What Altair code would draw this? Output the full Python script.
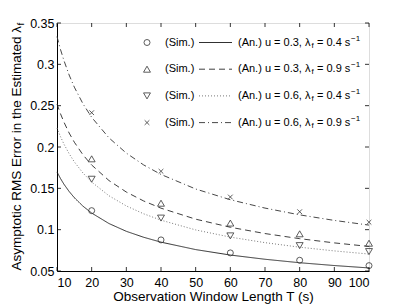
import altair as alt
import pandas as pd

# ---- data ----
T_curve = [10, 11, 12, 13.5, 15, 17.5, 20, 25, 30, 35, 40, 50, 60, 70, 80, 90, 100]
an_1 = [0.1698, 0.1619, 0.1550, 0.1462, 0.1387, 0.1284, 0.1201, 0.1074, 0.0980,
        0.0908, 0.0849, 0.0759, 0.0693, 0.0642, 0.0600, 0.0566, 0.0537]
an_2 = [0.2520, 0.2403, 0.2301, 0.2169, 0.2058, 0.1905, 0.1782, 0.1594, 0.1455,
        0.1347, 0.1260, 0.1127, 0.1029, 0.0953, 0.0891, 0.0840, 0.0797]
an_3 = [0.2229, 0.2126, 0.2035, 0.1919, 0.1820, 0.1685, 0.1576, 0.1410, 0.1287,
        0.1192, 0.1115, 0.0997, 0.0910, 0.0843, 0.0788, 0.0743, 0.0705]
an_4 = [0.3336, 0.3181, 0.3046, 0.2871, 0.2724, 0.2522, 0.2359, 0.2110, 0.1926,
        0.1783, 0.1668, 0.1492, 0.1362, 0.1261, 0.1179, 0.1112, 0.1055]

T_sim = [20, 40, 60, 80, 100]
sim_1 = [0.123, 0.0876, 0.0719, 0.063, 0.0565]
sim_2 = [0.1857, 0.132, 0.108, 0.095, 0.0836]
sim_3 = [0.161, 0.114, 0.0925, 0.0807, 0.0735]
sim_4 = [0.2415, 0.1706, 0.1395, 0.1217, 0.109]

series_u = ["0.3", "0.3", "0.6", "0.6"]
series_lam = ["0.4", "0.9", "0.4", "0.9"]

x_ticks = [10, 20, 30, 40, 50, 60, 70, 80, 90, 100]
y_ticks = [0.05, 0.1, 0.15, 0.2, 0.25, 0.3, 0.35]

# ---- styles ----
W, H = 312, 248
FONT = "Liberation Sans"
dashes = [[1, 0], [6, 4], [1, 2], [6, 3, 1, 3]]
line_colors = ["#1a1a1a", "#2a2a2a", "#6a6a6a", "#333333"]
mark_color = "#333333"
CROSS = "M-1,-1L1,1M-1,1L1,-1"
shapes = ["circle", "triangle-up", "triangle-down", CROSS]
sizes = [36, 48, 48, 22]

an_all = [an_1, an_2, an_3, an_4]
sim_all = [sim_1, sim_2, sim_3, sim_4]

x_enc = alt.X("T:Q",
              scale=alt.Scale(domain=[10, 100], nice=False, zero=False),
              axis=alt.Axis(values=x_ticks, title="Observation Window Length T (s)",
                            ticks=False, tickSize=0, labelPadding=5, titlePadding=1,
                            labelFontSize=12.5, titleFontSize=13.5, titleFontWeight="normal",
                            grid=False, domainColor="black"))
y_enc = alt.Y("v:Q",
              scale=alt.Scale(domain=[0.05, 0.35], nice=False, zero=False),
              axis=alt.Axis(values=y_ticks, format="~g", title="",
                            ticks=False, tickSize=0, labelPadding=3,
                            labelFontSize=12.5, grid=False, domainColor="black"))

layers = []
for i in range(4):
    df = pd.DataFrame({"T": T_curve, "v": an_all[i]})
    layers.append(alt.Chart(df).mark_line(color=line_colors[i], strokeWidth=0.9,
                                          strokeDash=dashes[i]).encode(x=x_enc, y=y_enc))
for i in range(4):
    df = pd.DataFrame({"T": T_sim, "v": sim_all[i]})
    layers.append(alt.Chart(df).mark_point(shape=shapes[i], size=sizes[i], filled=False,
                                           color=mark_color, strokeWidth=0.8,
                                           opacity=1).encode(x=x_enc, y=y_enc))

# inward ticks on all four sides
xt = pd.DataFrame({"T": x_ticks})
yt = pd.DataFrame({"v": y_ticks})
tick_style = dict(color="black", strokeWidth=0.8)
layers.append(alt.Chart(xt).mark_rule(**tick_style).encode(x=x_enc, y=alt.value(H), y2=alt.value(H - 4)))
layers.append(alt.Chart(xt).mark_rule(**tick_style).encode(x=x_enc, y=alt.value(0), y2=alt.value(4)))
layers.append(alt.Chart(yt).mark_rule(**tick_style).encode(y=y_enc, x=alt.value(0), x2=alt.value(4)))
layers.append(alt.Chart(yt).mark_rule(**tick_style).encode(y=y_enc, x=alt.value(W), x2=alt.value(W - 4)))

# legend (inside plot, top right)
one = pd.DataFrame({"a": [0]})
rows = [19.5, 46.2, 72.9, 99.6]
for i in range(4):
    ry = rows[i]
    layers.append(alt.Chart(one).mark_point(shape=shapes[i], size=sizes[i], filled=False,
                                            color=mark_color, strokeWidth=0.8, opacity=1)
                  .encode(x=alt.value(90), y=alt.value(ry)))
    layers.append(alt.Chart(one).mark_text(text="(Sim.)", align="left", baseline="middle",
                                           fontSize=11, font=FONT, color="black")
                  .encode(x=alt.value(108), y=alt.value(ry)))
    layers.append(alt.Chart(one).mark_rule(color=line_colors[i], strokeWidth=0.9,
                                           strokeDash=dashes[i])
                  .encode(x=alt.value(142), x2=alt.value(175), y=alt.value(ry)))
    layers.append(alt.Chart(one).mark_text(text=f"(An.) u = {series_u[i]}, λ", align="left",
                                           baseline="middle", fontSize=11, font=FONT, color="black")
                  .encode(x=alt.value(181), y=alt.value(ry)))
    layers.append(alt.Chart(one).mark_text(text="f", align="left", baseline="middle",
                                           fontSize=8, font=FONT, color="black", dy=3)
                  .encode(x=alt.value(254.5), y=alt.value(ry)))
    layers.append(alt.Chart(one).mark_text(text=f"= {series_lam[i]} s", align="left",
                                           baseline="middle", fontSize=11, font=FONT, color="black")
                  .encode(x=alt.value(260), y=alt.value(ry)))
    layers.append(alt.Chart(one).mark_text(text="−1", align="left", baseline="middle",
                                           fontSize=8, font=FONT, color="black", dy=-4)
                  .encode(x=alt.value(294), y=alt.value(ry)))

# y-axis title with subscript
layers.append(alt.Chart(one).mark_text(text="Asymptotic RMS Error in the Estimated λ", angle=270,
                                       align="left", baseline="alphabetic", fontSize=13.5,
                                       font=FONT, color="black")
              .encode(x=alt.value(-36.5), y=alt.value(247.5)))
layers.append(alt.Chart(one).mark_text(text="f", angle=270, align="left", baseline="alphabetic",
                                       fontSize=9.5, font=FONT, color="black")
              .encode(x=alt.value(-33.5), y=alt.value(2.5)))

chart = alt.layer(*layers).properties(
    width=W, height=H,
    autosize=alt.AutoSizeParams(type="none"),
    padding={"left": 49, "top": 15, "right": 30, "bottom": 33},
).configure_view(stroke="black", strokeWidth=1
).configure_axis(labelFont=FONT, titleFont=FONT, labelColor="black", titleColor="black",
                 domainWidth=1
).configure(background="white")

chart.save("out.html", embed_options={"renderer": "svg", "actions": False})
